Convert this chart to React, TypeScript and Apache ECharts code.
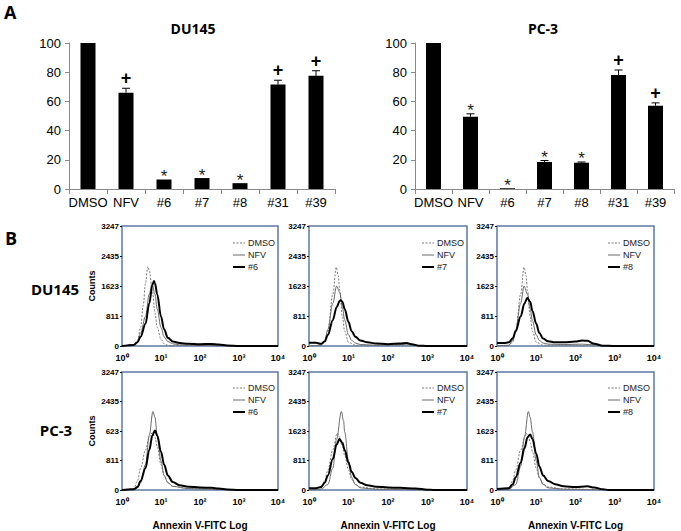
import React, { useEffect, useRef } from "react";
import * as echarts from "echarts";

// ---------- Panel A data ----------
const barCategories = ["DMSO", "NFV", "#6", "#7", "#8", "#31", "#39"];
const du145Values = [100, 66, 6.5, 7.5, 4, 71.5, 77.5];
const du145Errors = [0, 3, 0, 0, 0, 3, 3.5];
const du145Marks = ["", "+", "*", "*", "*", "+", "+"];
const pc3Values = [100, 49.5, 0.5, 18.5, 18, 78, 57];
const pc3Errors = [0, 2, 0, 1, 0.5, 3.5, 2];
const pc3Marks = ["", "*", "*", "*", "*", "+", "+"];

// ---------- Panel B data (x = Annexin V-FITC, y = counts) ----------
const countTicks = ["0", "811", "1623", "2435", "3247"];
const countTicksPc3First = ["0", "811", "623", "2435", "3247"];
const logTickLabels: Record<number, string> = { 1: "10⁰", 10: "10¹", 100: "10²", 1000: "10³", 10000: "10⁴" };
const legendNames = ["DMSO", "NFV"];

const du6Dmso = [[1, 0], [2, 20], [2.5, 150], [3, 500], [3.5, 1100], [4, 1700], [4.6, 2150], [5, 2050], [6, 1500], [7, 900], [8, 500], [10, 180], [12, 60], [15, 20], [20, 10], [100, 5], [10000, 0]];
const du6Nfv = [[1, 0], [2, 30], [2.5, 120], [3, 350], [4, 800], [5, 1400], [5.9, 1680], [7, 1400], [8, 1000], [10, 500], [12, 250], [15, 120], [20, 60], [30, 30], [100, 15], [300, 10], [1000, 0], [10000, 0]];
const du6Drug = [[1, 0], [2, 30], [2.5, 100], [3, 250], [4, 600], [5, 1150], [6, 1650], [6.6, 1760], [7, 1700], [8, 1400], [10, 800], [12, 450], [15, 220], [20, 120], [30, 80], [50, 60], [100, 50], [200, 55], [300, 40], [500, 15], [1000, 0], [10000, 0]];

const du7Dmso = [[1, 0], [2, 15], [2.5, 100], [3, 400], [4, 1400], [4.9, 2130], [5.5, 1900], [6, 1500], [7, 800], [8, 400], [10, 100], [15, 20], [1000, 0], [10000, 0]];
const du7Nfv = [[1, 0], [2, 20], [2.5, 150], [3, 450], [4, 1150], [5, 1620], [6, 1450], [7, 1050], [8, 700], [10, 300], [12, 150], [15, 80], [20, 40], [50, 20], [200, 40], [300, 50], [500, 10], [1000, 0], [10000, 0]];
const du7Drug = [[1, 90], [1.5, 90], [2, 60], [2.5, 120], [3, 300], [4, 700], [5, 1050], [6, 1220], [6.3, 1240], [7, 1200], [8, 1000], [10, 650], [12, 400], [15, 250], [20, 150], [30, 100], [50, 70], [100, 50], [200, 70], [300, 80], [400, 50], [600, 10], [1000, 0], [10000, 0]];

const du8Dmso = [[1, 0], [2, 15], [2.5, 100], [3, 400], [4, 1400], [4.9, 2130], [5.5, 1900], [6, 1500], [7, 800], [8, 400], [10, 100], [15, 20], [1000, 0], [10000, 0]];
const du8Nfv = [[1, 0], [2, 20], [2.5, 150], [3, 450], [4, 1150], [4.9, 1620], [6, 1400], [7, 1000], [8, 680], [10, 300], [12, 150], [15, 80], [20, 50], [50, 40], [150, 50], [300, 30], [500, 10], [1000, 0], [10000, 0]];
const du8Drug = [[1, 80], [1.5, 80], [2, 100], [2.5, 200], [3, 400], [4, 800], [5, 1150], [5.9, 1300], [7, 1200], [8, 950], [10, 600], [12, 350], [15, 200], [20, 130], [30, 100], [50, 100], [100, 120], [150, 150], [200, 140], [300, 60], [500, 10], [1000, 0], [10000, 0]];

const pc6Dmso = [[1, 0], [2, 40], [2.5, 250], [3, 600], [4, 1100], [5, 1450], [6, 1580], [7, 1450], [8, 1200], [10, 700], [12, 400], [15, 200], [20, 100], [50, 40], [300, 20], [1000, 0], [10000, 0]];
const pc6Nfv = [[1, 0], [2, 20], [2.5, 60], [3, 200], [4, 700], [5, 1500], [6.2, 2160], [7, 2000], [8, 1500], [10, 800], [12, 400], [15, 200], [20, 100], [50, 40], [200, 20], [1000, 0], [10000, 0]];
const pc6Drug = [[1, 0], [2, 20], [2.5, 80], [3, 250], [4, 600], [5, 1100], [6, 1500], [7, 1640], [8, 1500], [10, 1050], [12, 700], [15, 400], [20, 220], [30, 130], [50, 90], [100, 70], [200, 60], [300, 40], [500, 15], [1000, 0], [10000, 0]];

const pc7Dmso = [[1, 0], [2, 60], [2.5, 250], [3, 550], [4, 1100], [5.2, 1560], [6, 1450], [7, 1200], [8, 950], [10, 550], [12, 300], [15, 150], [20, 80], [50, 30], [1000, 0], [10000, 0]];
const pc7Nfv = [[1, 0], [2, 20], [3, 150], [4, 600], [5, 1400], [6.6, 2160], [7.5, 1900], [8, 1600], [10, 800], [12, 350], [15, 150], [20, 60], [50, 20], [1000, 0], [10000, 0]];
const pc7Drug = [[1, 50], [1.5, 50], [2, 80], [2.5, 200], [3, 400], [4, 850], [5, 1250], [5.9, 1400], [7, 1300], [8, 1100], [10, 750], [12, 500], [15, 330], [20, 200], [30, 130], [50, 90], [100, 70], [200, 60], [500, 40], [1000, 10], [1500, 0], [10000, 0]];

const pc8Dmso = [[1, 0], [2, 60], [2.5, 250], [3, 550], [4, 1100], [5.5, 1560], [6.5, 1450], [7, 1300], [8, 1050], [10, 600], [12, 330], [15, 160], [20, 80], [50, 30], [1000, 0], [10000, 0]];
const pc8Nfv = [[1, 0], [2, 20], [3, 150], [4, 650], [5, 1450], [6.3, 2160], [7, 2000], [8, 1600], [10, 800], [12, 350], [15, 150], [20, 60], [50, 20], [1000, 0], [10000, 0]];
const pc8Drug = [[1, 30], [2, 50], [2.5, 150], [3, 350], [4, 750], [5, 1150], [6, 1450], [7, 1530], [8, 1400], [10, 1000], [12, 650], [15, 400], [20, 250], [30, 160], [50, 100], [100, 80], [200, 100], [300, 70], [500, 20], [700, 0], [10000, 0]];

const histPanels = [
  { drug: "#6", dmso: du6Dmso, nfv: du6Nfv, sample: du6Drug, ticks: countTicks },
  { drug: "#7", dmso: du7Dmso, nfv: du7Nfv, sample: du7Drug, ticks: countTicks },
  { drug: "#8", dmso: du8Dmso, nfv: du8Nfv, sample: du8Drug, ticks: countTicks },
  { drug: "#6", dmso: pc6Dmso, nfv: pc6Nfv, sample: pc6Drug, ticks: countTicksPc3First },
  { drug: "#7", dmso: pc7Dmso, nfv: pc7Nfv, sample: pc7Drug, ticks: countTicks },
  { drug: "#8", dmso: pc8Dmso, nfv: pc8Nfv, sample: pc8Drug, ticks: countTicks },
];

const COUNT_MAX = 3247;
const COUNT_STEP = 3247 / 4;
const FONT = "Liberation Sans, Arial, sans-serif";
const DMSO_STYLE = { stroke: "#7a7a7a", lineWidth: 1, lineDash: [2, 1.5] };
const NFV_STYLE = { stroke: "#6a6a6a", lineWidth: 1 };
const DRUG_STYLE = { stroke: "#000", lineWidth: 2 };

export default function App() {
  const ref = useRef<HTMLDivElement>(null);

  useEffect(() => {
    if (!ref.current) return;
    const chart = echarts.init(ref.current, undefined, { renderer: "svg" });

    const grids: any[] = [
      { left: 69, top: 43, width: 266, height: 146 },
      { left: 415, top: 43, width: 259, height: 146 },
    ];
    const xAxes: any[] = [];
    const yAxes: any[] = [];
    const series: any[] = [];
    const graphics: any[] = [];

    const barSets = [
      { values: du145Values, errors: du145Errors, marks: du145Marks },
      { values: pc3Values, errors: pc3Errors, marks: pc3Marks },
    ];
    barSets.forEach((set, gi) => {
      xAxes.push({
        gridIndex: gi,
        type: "category",
        data: barCategories,
        axisLine: { lineStyle: { color: "#8a8a8a", width: 1 } },
        axisTick: { show: true, length: 5, lineStyle: { color: "#8a8a8a" } },
        axisLabel: { interval: 0, color: "#000", fontFamily: FONT, fontSize: 13, margin: 7 },
      });
      yAxes.push({
        gridIndex: gi,
        type: "value",
        min: 0,
        max: 100,
        interval: 20,
        splitLine: { show: false },
        axisLine: { show: true, lineStyle: { color: "#8a8a8a", width: 1 } },
        axisTick: { show: true, length: 4, lineStyle: { color: "#8a8a8a" } },
        axisLabel: { color: "#000", fontFamily: FONT, fontSize: 13, margin: 8 },
      });
      series.push({
        type: "bar",
        xAxisIndex: gi,
        yAxisIndex: gi,
        data: set.values,
        barWidth: 15,
        itemStyle: { color: "#000" },
      });
      series.push({
        type: "custom",
        xAxisIndex: gi,
        yAxisIndex: gi,
        data: set.values.map((v, i) => [i, v, set.errors[i]]),
        encode: { x: 0, y: 1 },
        z: 5,
        renderItem: (params: any, api: any) => {
          const i = api.value(0);
          const v = api.value(1);
          const e = api.value(2);
          const p0 = api.coord([i, v]);
          const p1 = api.coord([i, v + e]);
          const mk = set.marks[params.dataIndex];
          const children: any[] = [];
          if (e > 0) {
            children.push({ type: "line", shape: { x1: p0[0], y1: p0[1], x2: p1[0], y2: p1[1] }, style: { stroke: "#000", lineWidth: 1 } });
            children.push({ type: "line", shape: { x1: p1[0] - 4, y1: p1[1], x2: p1[0] + 4, y2: p1[1] }, style: { stroke: "#000", lineWidth: 1 } });
          }
          if (mk === "+") {
            children.push({ type: "text", x: p1[0], y: p1[1] - 1, style: { text: "+", align: "center", verticalAlign: "bottom", font: "bold 18px " + FONT, fill: "#000" } });
          } else if (mk === "*") {
            children.push({ type: "text", x: p1[0], y: p1[1] - 3, style: { text: "*", align: "center", verticalAlign: "middle", font: "17px " + FONT, fill: "#222" } });
          }
          return { type: "group", children };
        },
      });
    });

    const histLefts = [122, 309, 497];
    const histWidths = [156, 158, 157];
    const histTops = [226, 372];
    const histHeights = [120, 119];
    const legendLefts = [233, 422, 608];
    const legendTops = [243, 388];

    histPanels.forEach((p, k) => {
      const row = Math.floor(k / 3);
      const col = k % 3;
      const gi = grids.length;
      grids.push({
        left: histLefts[col],
        top: histTops[row],
        width: histWidths[col],
        height: histHeights[row],
        show: true,
        borderColor: "#5b79a5",
        borderWidth: 1.5,
        backgroundColor: "transparent",
      });
      xAxes.push({
        gridIndex: gi,
        type: "log",
        logBase: 10,
        min: 1,
        max: 10000,
        axisLine: { show: false },
        axisTick: { show: false },
        splitLine: { show: false },
        minorTick: { show: false },
        axisLabel: {
          color: "#000",
          fontFamily: FONT,
          fontWeight: "bold",
          fontSize: 9,
          margin: 7,
          formatter: (v: number) => logTickLabels[Math.round(v)] ?? "",
        },
        name: row === 1 ? "Annexin V-FITC Log" : "",
        nameLocation: "middle",
        nameGap: 30,
        nameTextStyle: { color: "#000", fontFamily: FONT, fontWeight: "bold", fontSize: 10 },
      });
      yAxes.push({
        gridIndex: gi,
        type: "value",
        min: 0,
        max: COUNT_MAX,
        interval: COUNT_STEP,
        splitLine: { show: false },
        axisLine: { show: false },
        axisTick: { show: true, length: 2, lineStyle: { color: "#000" } },
        axisLabel: {
          color: "#000",
          fontFamily: FONT,
          fontWeight: "bold",
          fontSize: 8,
          margin: 3,
          formatter: (v: number) => p.ticks[Math.round(v / COUNT_STEP)] ?? "",
        },
        name: col === 0 ? "Counts" : "",
        nameLocation: "middle",
        nameGap: 26,
        nameRotate: 90,
        nameTextStyle: { color: "#000", fontFamily: FONT, fontWeight: "bold", fontSize: 9 },
      });
      const common = { type: "line", xAxisIndex: gi, yAxisIndex: gi, showSymbol: false, symbol: "none", smooth: 0.35, smoothMonotone: "x" };
      series.push({ ...common, name: "DMSO", data: p.dmso, lineStyle: { color: "#7a7a7a", width: 1, type: [2, 1.5] }, z: 3 });
      series.push({ ...common, name: "NFV", data: p.nfv, lineStyle: { color: "#6a6a6a", width: 1, type: "solid" }, z: 3 });
      series.push({ ...common, name: p.drug, data: p.sample, lineStyle: { color: "#000", width: 2, type: "solid" }, z: 4 });

      // legend (drawn as plain lines and text)
      const names = [...legendNames, p.drug];
      const styles = [DMSO_STYLE, NFV_STYLE, DRUG_STYLE];
      names.forEach((nm, r) => {
        const lx = legendLefts[col];
        const ly = legendTops[row] + r * 12;
        graphics.push({ type: "line", shape: { x1: lx, y1: ly, x2: lx + 12, y2: ly }, style: styles[r], z: 10 });
        graphics.push({ type: "text", x: lx + 15, y: ly, style: { text: nm, verticalAlign: "middle", font: "9px " + FONT, fill: "#222" }, z: 10 });
      });
    });

    const option: any = {
      animation: false,
      backgroundColor: "#fff",
      title: [
        { text: "DU145", left: 188, top: 16, textAlign: "center", textStyle: { fontFamily: "Open Sans", fontWeight: "bold", fontSize: 14, color: "#000" } },
        { text: "PC-3", left: 538, top: 16, textAlign: "center", textStyle: { fontFamily: "Open Sans", fontWeight: "bold", fontSize: 14, color: "#000" } },
      ],
      grid: grids,
      xAxis: xAxes,
      yAxis: yAxes,
      series,
      graphic: [
        { type: "text", left: 4, top: 3, style: { text: "A", font: "bold 18px Open Sans", fill: "#000" } },
        { type: "text", left: 5, top: 229, style: { text: "B", font: "bold 18px Open Sans", fill: "#000" } },
        { type: "text", x: 55, y: 289, style: { text: "DU145", align: "center", verticalAlign: "middle", font: "bold 15px Open Sans", fill: "#000" } },
        { type: "text", x: 56, y: 430, style: { text: "PC-3", align: "center", verticalAlign: "middle", font: "bold 15px Open Sans", fill: "#000" } },
        ...graphics,
      ],
    };
    chart.setOption(option);
    return () => chart.dispose();
  }, []);

  return <div ref={ref} style={{ position: "fixed", left: 0, top: 0, width: 681, height: 531 }} />;
}
